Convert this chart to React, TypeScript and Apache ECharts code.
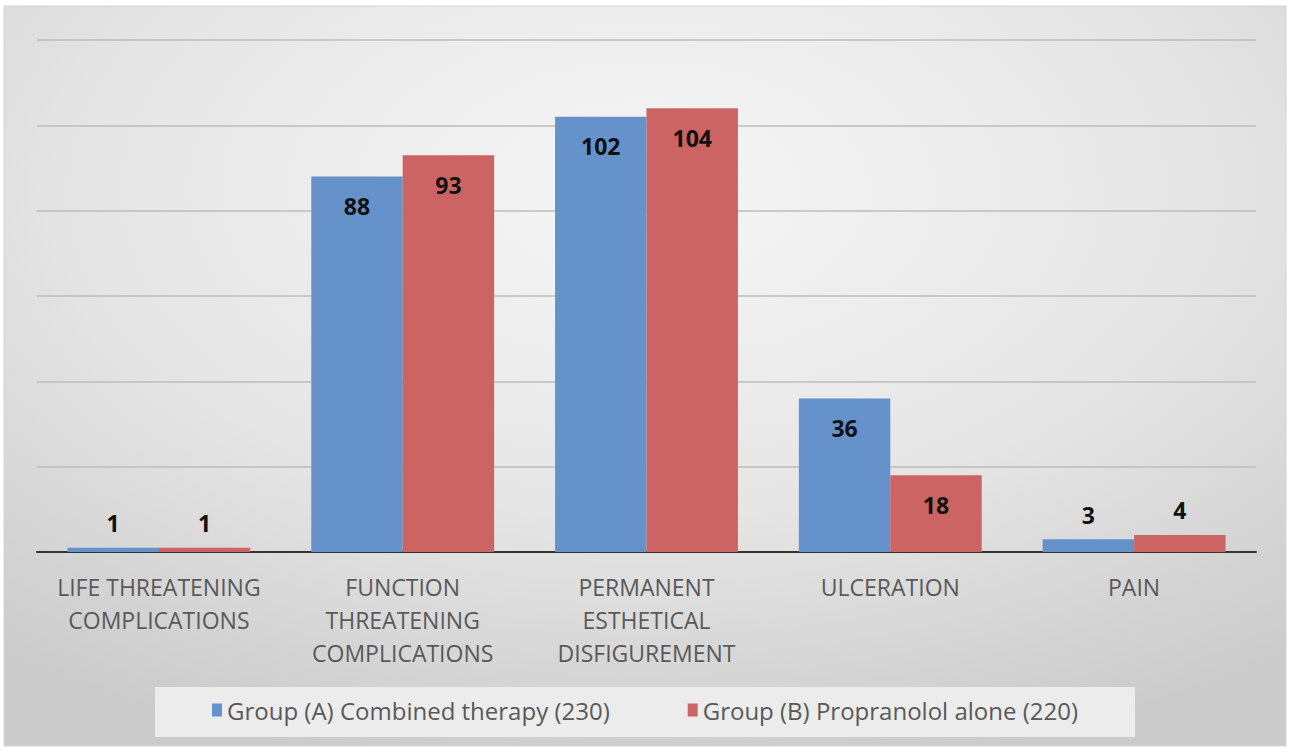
import React, { useEffect, useRef } from "react";
import * as echarts from "echarts";

const categories = [
  "LIFE THREATENING\nCOMPLICATIONS",
  "FUNCTION\nTHREATENING\nCOMPLICATIONS",
  "PERMANENT\nESTHETICAL\nDISFIGUREMENT",
  "ULCERATION",
  "PAIN",
];
const groupA = [1, 88, 102, 36, 3];
const groupB = [1, 93, 104, 18, 4];
const seriesNames = [
  "Group (A) Combined therapy (230)",
  "Group (B) Propranolol alone (220)",
];
const colors = ["#6592cb", "#cb6462"];

const FONT = "'Open Sans', Lato, sans-serif";

function labelled(values: number[]) {
  return values.map((v) => ({
    value: v,
    label:
      v >= 10
        ? { show: true, position: "insideTop", distance: 18 }
        : { show: true, position: "top", distance: 13 },
  }));
}

export default function App() {
  const ref = useRef<HTMLDivElement>(null);
  useEffect(() => {
    const chart = echarts.init(ref.current!, null, { renderer: "svg" });
    const labelStyle = {
      fontFamily: FONT,
      fontWeight: "bold" as const,
      fontSize: 23,
      color: "#111",
    };
    chart.setOption({
      animation: false,
      backgroundColor: "#ffffff",
      graphic: [
        {
          type: "rect",
          z: -10,
          shape: { x: 4, y: 6, width: 1282, height: 740 },
          style: {
            fill: new echarts.graphic.RadialGradient(0.5, 0.25, 0.8, [
              { offset: 0, color: "#f6f6f6" },
              { offset: 0.55, color: "#e5e5e5" },
              { offset: 1, color: "#cbcbcb" },
            ]),
            stroke: "#d4d4d4",
            lineWidth: 1,
          },
        },
        {
          type: "rect",
          z: -5,
          shape: { x: 155, y: 687, width: 980, height: 50 },
          style: { fill: "#ececec" },
        },
      ],
      grid: { left: 37, right: 34, top: 40, bottom: 201, containLabel: false },
      legend: {
        data: seriesNames,
        bottom: 26,
        left: "center",
        icon: "rect",
        itemWidth: 10,
        itemHeight: 13,
        itemGap: 78,
        textStyle: { fontFamily: FONT, fontSize: 24, color: "#595959" },
      },
      xAxis: {
        type: "category",
        data: categories,
        axisLine: { lineStyle: { color: "#333", width: 2 } },
        axisTick: { show: false },
        axisLabel: {
          interval: 0,
          fontFamily: FONT,
          fontSize: 23,
          color: "#595959",
          lineHeight: 33,
          margin: 18,
        },
      },
      yAxis: {
        type: "value",
        min: 0,
        max: 120,
        interval: 20,
        axisLabel: { show: false },
        axisLine: { show: false },
        axisTick: { show: false },
        splitLine: { lineStyle: { color: "#bdbdbd", width: 1.5 } },
      },
      series: [
        {
          name: seriesNames[0],
          type: "bar",
          data: labelled(groupA),
          itemStyle: { color: colors[0] },
          barGap: "0%",
          barCategoryGap: "25%",
          label: labelStyle,
        },
        {
          name: seriesNames[1],
          type: "bar",
          data: labelled(groupB),
          itemStyle: { color: colors[1] },
          barGap: "0%",
          barCategoryGap: "25%",
          label: labelStyle,
        },
      ],
    });
    return () => chart.dispose();
  }, []);
  return (
    <div
      ref={ref}
      style={{ position: "fixed", left: 0, top: 0, width: 1290, height: 753 }}
    />
  );
}
